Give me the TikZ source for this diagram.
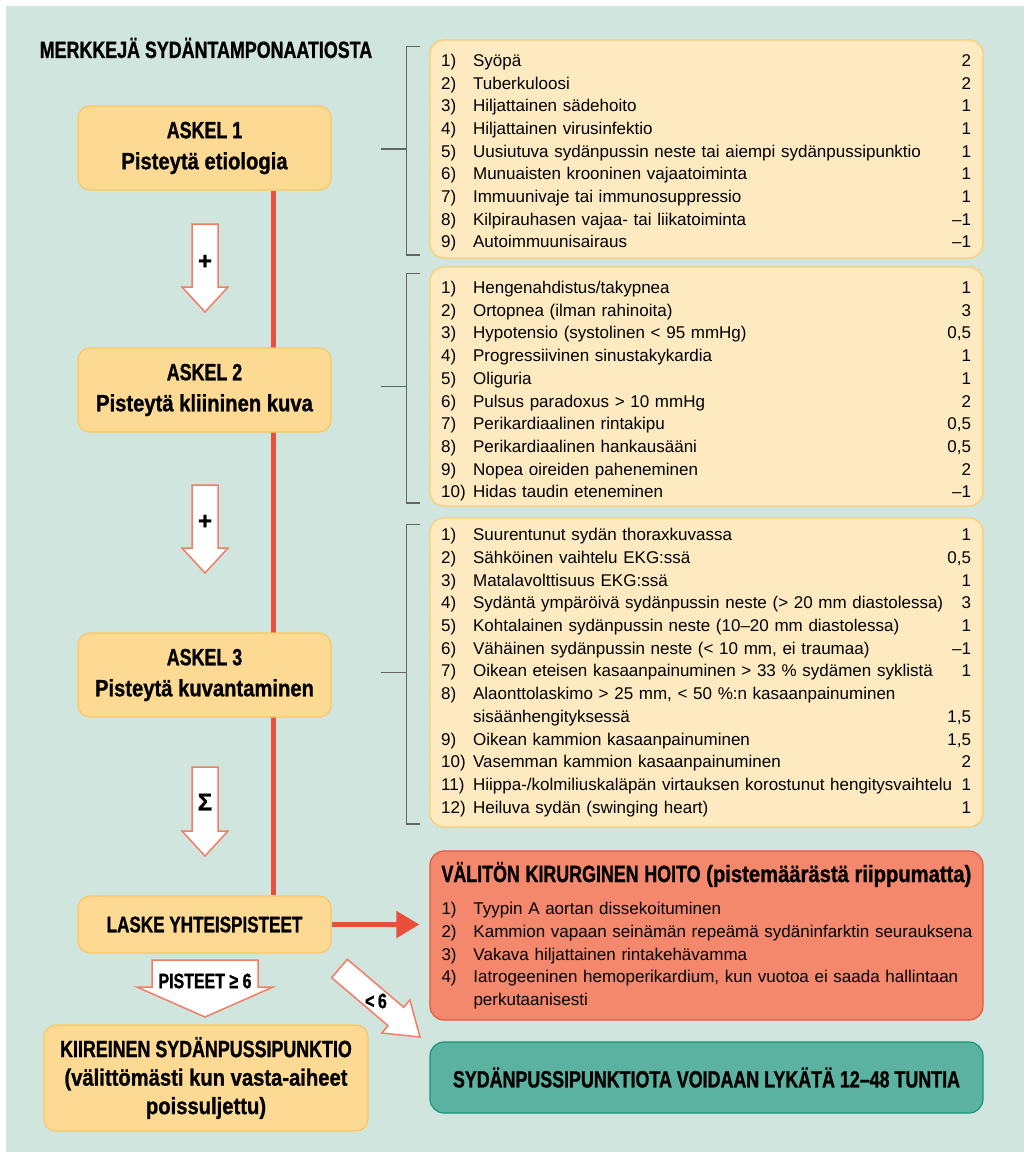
\documentclass[tikz,border=0pt]{standalone}
\usepackage{fontspec}
\setmainfont{Liberation Sans}
\newfontfamily\hb{Liberation Sans}[FakeStretch=0.76, BoldFeatures={FakeBold=1}]
\newfontfamily\hbl{Liberation Sans}[FakeStretch=0.86, BoldFeatures={FakeBold=1}]
\newfontfamily\hbn{Liberation Sans}[BoldFeatures={FakeBold=1}]
\usetikzlibrary{arrows.meta}
\pgfdeclarelayer{bgl}
\pgfdeclarelayer{back}
\pgfsetlayers{bgl,back,main}
\definecolor{mint}{RGB}{207,229,222}
\definecolor{askfill}{RGB}{253,218,147}
\definecolor{askedge}{RGB}{250,200,95}
\definecolor{listfill}{RGB}{254,234,192}
\definecolor{listedge}{RGB}{250,205,110}
\definecolor{redln}{RGB}{232,80,60}
\definecolor{arrowedge}{RGB}{240,125,100}
\definecolor{redfill}{RGB}{244,136,108}
\definecolor{rededge}{RGB}{232,85,65}
\definecolor{greenfill}{RGB}{92,178,161}
\definecolor{greenedge}{RGB}{25,150,118}
\definecolor{brk}{RGB}{100,100,100}
\newcommand\lrow[3]{\makebox[\linewidth][l]{\makebox[32pt][l]{#1}#2\hfill#3}}
\newcommand\lcont[2]{\makebox[\linewidth][l]{\hspace*{32pt}#1\hfill#2}}
\newcommand\boldtxt{\hb\bfseries\fontsize{23.5}{31}\selectfont}
\newcommand\lc[1]{{\hbl\bfseries #1}}
% x, top, head base, tip, shaft half, head half
\newcommand\vblock[6]{\draw[blockarrow] (#1-#5,#2) -- (#1+#5,#2) -- (#1+#5,#3) -- (#1+#6,#3) -- (#1,#4) -- (#1-#6,#3) -- (#1-#5,#3) -- cycle;}
\begin{document}
\begin{tikzpicture}[x=1pt,y=-1pt,
  stepbox/.style={draw=askedge, fill=askfill, line width=1.2pt, rounded corners=12pt,
    minimum width=253pt, align=center, font=\boldtxt},
  listbox/.style={draw=listedge, fill=listfill, line width=1.2pt, rounded corners=14pt,
    minimum width=553pt},
  listtext/.style={anchor=north west, inner sep=0pt, text width=530pt, align=left,
    font=\fontsize{17}{22.7}\selectfont},
  redbox/.style={draw=rededge, fill=redfill, line width=1.2pt, rounded corners=14pt,
    text width=530pt, inner xsep=11.5pt, align=left, font=\fontsize{17}{22.7}\selectfont,
    minimum height=169pt},
  greenbox/.style={draw=greenedge, fill=greenfill, line width=1.2pt, rounded corners=14pt,
    minimum width=553pt, minimum height=71pt, align=center, font=\boldtxt},
  bracket/.style={draw=brk, line width=1.8pt},
  redline/.style={draw=redln, line width=5pt},
  blockarrow/.style={draw=arrowedge, fill=white, line width=1.5pt, line join=miter},
  lbl/.style={font=\boldtxt, inner sep=0pt},
  sym/.style={font=\hbn\bfseries\fontsize{24}{28}\selectfont, inner sep=0pt}
]
\useasboundingbox (0,0) rectangle (1024,1152);
\begin{pgfonlayer}{bgl}
\fill[white] (0,0) rectangle (1024,1152);
\fill[mint] (6,6) rectangle (1024,1152);
\end{pgfonlayer}

\node[lbl] (title) at (206,48) {MERKKEJÄ SYDÄNTAMPONAATIOSTA};

\node[stepbox, minimum height=84pt] (askel1) at (204.5,148) {ASKEL 1\\\lc{Pisteytä etiologia}};
\node[stepbox, minimum height=84pt] (askel2) at (204.5,390) {ASKEL 2\\\lc{Pisteytä kliininen kuva}};
\node[stepbox, minimum height=84pt] (askel3) at (204.5,675) {ASKEL 3\\\lc{Pisteytä kuvantaminen}};
\node[stepbox, minimum height=57pt, font=\hb\bfseries\fontsize{22.5}{28}\selectfont] (laske) at (204.5,924.5) {LASKE YHTEISPISTEET};
\node[stepbox, minimum width=324pt, minimum height=106pt, font=\hb\bfseries\fontsize{23.5}{28.5}\selectfont] (kiir) at (206,1078)
  {KIIREINEN SYDÄNPUSSIPUNKTIO\\\lc{(välittömästi kun vasta-aiheet}\\\lc{poissuljettu)}};

\coordinate (redx) at (273,0);
\begin{pgfonlayer}{back}
\draw[redline] (askel1.south -| redx) -- (laske.north -| redx);
\end{pgfonlayer}

% block arrows
\vblock{205}{224}{287}{312}{13}{23}
\vblock{205}{485}{548}{573}{13}{23}
\vblock{205}{767}{831}{856}{13}{23}
\vblock{205}{960}{987}{1017}{53}{68}
\node[sym] (plus1) at (205,262) {+};
\node[sym] (plus2) at (205,522) {+};
\node[sym] (sigma) at (205,802) {Σ};
\node[lbl, font=\hb\bfseries\fontsize{21}{24}\selectfont] (ge6) at (205,981) {PISTEET ≥ 6};

\begin{scope}[shift={(339.5,968.5)}, rotate=-40.4]
\draw[blockarrow] (0,-12.1) -- (74,-12.1) -- (74,-21.7) -- (105.7,0) -- (74,21.7) -- (74,12.1) -- (0,12.1) -- cycle;
\end{scope}
\node[lbl, font=\hb\bfseries\fontsize{21}{24}\selectfont] (lt6) at (376,1001) {<\,6};

% lists
\node[listbox, minimum height=218pt] (l1) at (706.5,149) {};
\node[listtext] (l1t) at ([shift={(11.5,14.4)}]l1.north west) {%
\lrow{1)}{Syöpä}{2}\\
\lrow{2)}{Tuberkuloosi}{2}\\
\lrow{3)}{Hiljattainen sädehoito}{1}\\
\lrow{4)}{Hiljattainen virusinfektio}{1}\\
\lrow{5)}{Uusiutuva sydänpussin neste tai aiempi sydänpussipunktio}{1}\\
\lrow{6)}{Munuaisten krooninen vajaatoiminta}{1}\\
\lrow{7)}{Immuunivaje tai immunosuppressio}{1}\\
\lrow{8)}{Kilpirauhasen vajaa- tai liikatoiminta}{–1}\\
\lrow{9)}{Autoimmuunisairaus}{–1}};

\node[listbox, minimum height=239pt] (l2) at (706.5,386.5) {};
\node[listtext] (l2t) at ([shift={(11.5,14.6)}]l2.north west) {%
\lrow{1)}{Hengenahdistus/takypnea}{1}\\
\lrow{2)}{Ortopnea (ilman rahinoita)}{3}\\
\lrow{3)}{Hypotensio (systolinen < 95 mmHg)}{0,5}\\
\lrow{4)}{Progressiivinen sinustakykardia}{1}\\
\lrow{5)}{Oliguria}{1}\\
\lrow{6)}{Pulsus paradoxus > 10 mmHg}{2}\\
\lrow{7)}{Perikardiaalinen rintakipu}{0,5}\\
\lrow{8)}{Perikardiaalinen hankausääni}{0,5}\\
\lrow{9)}{Nopea oireiden paheneminen}{2}\\
\lrow{10)}{Hidas taudin eteneminen}{–1}};

\node[listbox, minimum height=309pt] (l3) at (706.5,672.5) {};
\node[listtext] (l3t) at ([shift={(11.5,10.8)}]l3.north west) {%
\lrow{1)}{Suurentunut sydän thoraxkuvassa}{1}\\
\lrow{2)}{Sähköinen vaihtelu EKG:ssä}{0,5}\\
\lrow{3)}{Matalavolttisuus EKG:ssä}{1}\\
\lrow{4)}{Sydäntä ympäröivä sydänpussin neste (> 20 mm diastolessa)}{3}\\
\lrow{5)}{Kohtalainen sydänpussin neste (10–20 mm diastolessa)}{1}\\
\lrow{6)}{Vähäinen sydänpussin neste (< 10 mm, ei traumaa)}{–1}\\
\lrow{7)}{Oikean eteisen kasaanpainuminen > 33 \% sydämen syklistä}{1}\\
\lrow{8)}{Alaonttolaskimo > 25 mm, < 50 \%:n kasaanpainuminen}{}\\
\lcont{sisäänhengityksessä}{1,5}\\
\lrow{9)}{Oikean kammion kasaanpainuminen}{1,5}\\
\lrow{10)}{Vasemman kammion kasaanpainuminen}{2}\\
\lrow{11)}{Hiippa-/kolmiliuskaläpän virtauksen korostunut hengitysvaihtelu}{1}\\
\lrow{12)}{Heiluva sydän (swinging heart)}{1}};

% brackets
\foreach \b in {l1,l2,l3}{
  \draw[bracket] ([shift={(-9,7)}]\b.north west) -- ([shift={(-23,7)}]\b.north west)
    -- ([shift={(-23,-4)}]\b.south west) -- ([shift={(-9,-4)}]\b.south west);
  \draw[bracket] ([xshift=-48pt]\b.west) -- ([xshift=-23pt]\b.west);
}

% outcome boxes
\node[redbox] (red) at (706.5,935.5) {%
{\hb\bfseries\fontsize{23.5}{28}\selectfont VÄLITÖN KIRURGINEN HOITO \lc{(pistemäärästä riippumatta)}}\\[10pt]
\lrow{1)}{Tyypin A aortan dissekoituminen}{}\\
\lrow{2)}{Kammion vapaan seinämän repeämä sydäninfarktin seurauksena}{}\\
\lrow{3)}{Vakava hiljattainen rintakehävamma}{}\\
\lrow{4)}{Iatrogeeninen hemoperikardium, kun vuotoa ei saada hallintaan}{}\\
\lcont{perkutaanisesti}{}};

\node[greenbox] (green) at (706.5,1077.5) {SYDÄNPUSSIPUNKTIOTA VOIDAAN LYKÄTÄ 12–48 TUNTIA};

\draw[redline, -{Triangle[length=23pt,width=26pt]}, shorten >=10pt] (laske.east) -- (laske.east -| red.west);
\end{tikzpicture}
\end{document}
